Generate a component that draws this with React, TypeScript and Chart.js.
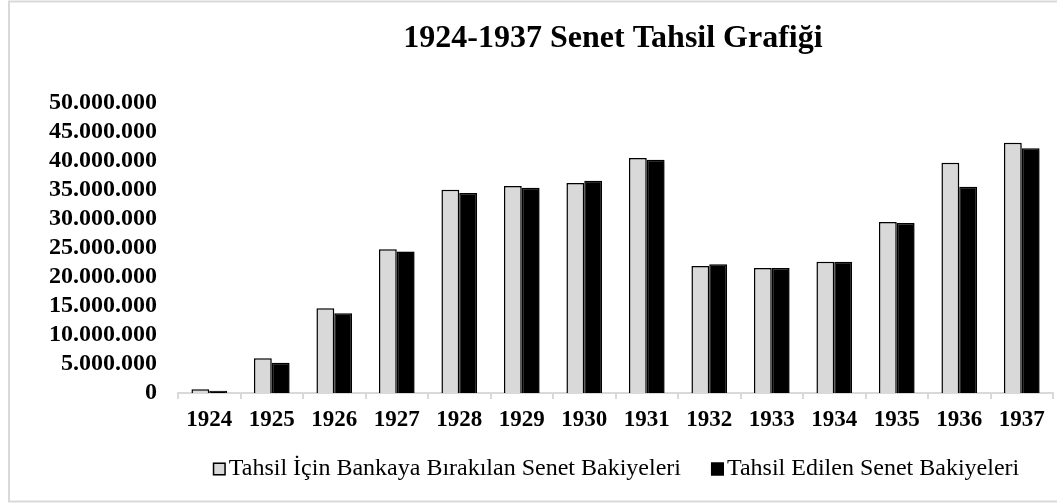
import React, { useEffect, useRef } from "react";
import { Chart, registerables } from "chart.js";

Chart.register(...registerables);

const categories = ["1924", "1925", "1926", "1927", "1928", "1929", "1930", "1931", "1932", "1933", "1934", "1935", "1936", "1937"];
const bırakılan = [640000, 5980000, 14600000, 24800000, 35050000, 35700000, 36200000, 40500000, 21900000, 21550000, 22650000, 29500000, 39700000, 43150000];
const edilen = [400000, 5200000, 13750000, 24400000, 34500000, 35400000, 36600000, 40200000, 22200000, 21550000, 22650000, 29300000, 35550000, 42200000];
const seriesLabels = ["Tahsil İçin Bankaya Bırakılan Senet Bakiyeleri", "Tahsil Edilen Senet Bakiyeleri"];
const titleText = "1924-1937 Senet Tahsil Grafiği";

const SERIF = "'Liberation Serif', 'Times New Roman', serif";

function fmt(v: number): string {
  return Math.round(v).toString().replace(/\B(?=(\d{3})+(?!\d))/g, ".");
}

const decorPlugin = {
  id: "decor",
  beforeDatasetsDraw(chart: any) {
    const ctx = chart.ctx;
    ctx.save();
    ctx.shadowColor = "rgba(0,0,0,0.28)";
    ctx.shadowBlur = 4;
    ctx.shadowOffsetX = 2;
    ctx.shadowOffsetY = 1;
  },
  afterDatasetsDraw(chart: any) {
    chart.ctx.restore();
  },
  afterDraw(chart: any) {
    const ctx = chart.ctx;
    ctx.save();
    // outer border
    ctx.strokeStyle = "#d9d9d9";
    ctx.lineWidth = 2;
    ctx.strokeRect(9, 1.5, chart.width, 500);
    // title
    ctx.fillStyle = "#000";
    ctx.font = `bold 32px ${SERIF}`;
    ctx.textAlign = "center";
    ctx.textBaseline = "alphabetic";
    ctx.fillText(titleText, 613, 47);
    // legend
    ctx.font = `24px ${SERIF}`;
    const box = 13;
    const gap = 3;
    const itemGap = 30;
    const items = chart.data.datasets.map((d: any) => ({
      label: d.label,
      fill: d.backgroundColor,
      stroke: d.borderColor,
      w: box + gap + ctx.measureText(d.label).width,
    }));
    const total = items.reduce((s: number, it: any) => s + it.w, 0) + itemGap * (items.length - 1);
    let x = 616 - total / 2;
    const yMid = 469;
    ctx.textAlign = "left";
    ctx.textBaseline = "middle";
    items.forEach((it: any) => {
      ctx.fillStyle = it.fill;
      ctx.fillRect(x, yMid - box / 2, box, box);
      ctx.strokeStyle = it.stroke;
      ctx.lineWidth = 1.5;
      ctx.strokeRect(x + 0.75, yMid - box / 2 + 0.75, box - 1.5, box - 1.5);
      ctx.fillStyle = "#000";
      ctx.fillText(it.label, x + box + gap, yMid);
      x += it.w + itemGap;
    });
    ctx.restore();
  },
};

export default function App() {
  const ref = useRef<HTMLCanvasElement | null>(null);
  useEffect(() => {
    document.body.style.margin = "0";
    const canvas = ref.current!;
    const chart = new Chart(canvas, {
      type: "bar",
      data: {
        labels: categories,
        datasets: [
          {
            label: seriesLabels[0],
            data: bırakılan,
            backgroundColor: "#d9d9d9",
            borderColor: "#000",
            borderWidth: 1.5,
            categoryPercentage: 0.57,
            barPercentage: 1,
          },
          {
            label: seriesLabels[1],
            data: edilen,
            backgroundColor: "#000",
            borderColor: "#000",
            borderWidth: 1.5,
            categoryPercentage: 0.57,
            barPercentage: 1,
          },
        ],
      },
      options: {
        animation: false,
        responsive: false,
        maintainAspectRatio: false,
        layout: { padding: { left: 0, right: 4, top: 103, bottom: 60 } },
        plugins: {
          legend: { display: false },
          title: { display: false },
          tooltip: { enabled: false },
        },
        scales: {
          x: {
            grid: {
              drawOnChartArea: false,
              drawTicks: true,
              tickLength: 6,
              color: "#d9d9d9",
              lineWidth: 2,
              offset: true,
            },
            border: { color: "#d9d9d9", width: 2 },
            ticks: {
              color: "#000",
              padding: 7,
              autoSkip: false,
              maxRotation: 0,
              font: { family: SERIF, size: 23, weight: "bold" },
            },
            afterFit: (s: any) => {
              s.height = 51;
            },
          },
          y: {
            min: 0,
            max: 50000000,
            grid: { display: false, drawTicks: false },
            border: { display: false },
            ticks: {
              stepSize: 5000000,
              autoSkip: false,
              color: "#000",
              padding: 21,
              font: { family: SERIF, size: 24, weight: "bold" },
              callback: (v: any) => fmt(Number(v)),
            },
            afterFit: (s: any) => {
              s.width = 178;
            },
          },
        },
      },
      plugins: [decorPlugin],
    });
    return () => chart.destroy();
  }, []);
  return <canvas ref={ref} width={1057} height={504} style={{ display: "block" }} />;
}
